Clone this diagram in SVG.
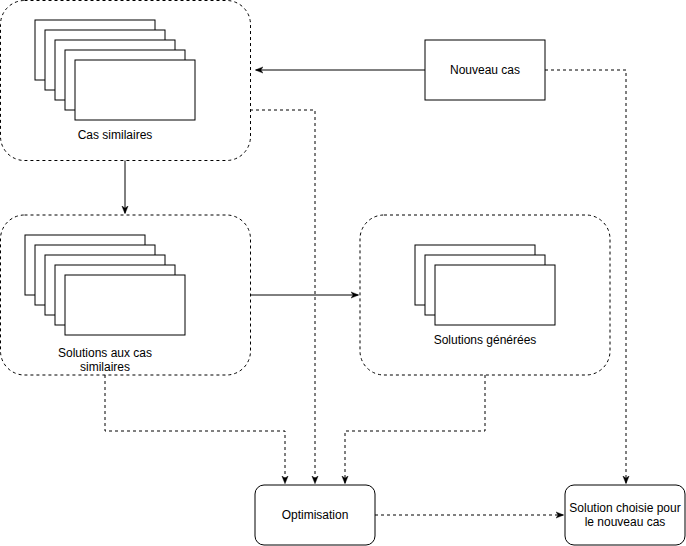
<svg xmlns="http://www.w3.org/2000/svg" width="686" height="546" viewBox="0 0 686 546">
<style>
.container{fill:#fff;stroke:#000;stroke-width:1;stroke-dasharray:3 3}
.card{fill:#fff;stroke:#000;stroke-width:1}
.box{fill:#fff;stroke:#000;stroke-width:1}
.lbl{font-family:"Liberation Sans",Arial,sans-serif;font-size:12px;fill:#000;text-anchor:middle}
.solid{fill:none;stroke:#000;stroke-width:1}
.dash{fill:none;stroke:#000;stroke-width:1;stroke-dasharray:3 3}
</style>
<defs>
<marker id="arr" viewBox="0 0 10 10" refX="9" refY="5" markerWidth="8" markerHeight="8" markerUnits="userSpaceOnUse" orient="auto">
<path d="M0,1 L10,5 L0,9 L3,5 Z" fill="#000" stroke="#000" stroke-width="0.5"/>
</marker>
</defs>
<rect width="686" height="546" fill="#fff"/>
<g id="connectors">
<path class="solid" d="M125,160 L125,213" marker-end="url(#arr)"/>
<path class="solid" d="M250,295 L358,295" marker-end="url(#arr)"/>
<path class="solid" d="M425,70 L256,70" marker-end="url(#arr)"/>
<path class="dash" d="M545,70 L626,70 L626,483" marker-end="url(#arr)"/>
<path class="dash" d="M250,110 L315,110 L315,483" marker-end="url(#arr)"/>
<path class="dash" d="M105,375 L105,431 L285,431 L285,483" marker-end="url(#arr)"/>
<path class="dash" d="M485,375 L485,431 L345,431 L345,483" marker-end="url(#arr)"/>
<path class="dash" d="M375,515 L563,515" marker-end="url(#arr)"/>
</g>
<g id="cas-similaires">
<rect class="container" x="0.5" y="0.5" width="250" height="160" rx="24"/>
<rect class="card" x="35" y="20" width="120" height="60"/>
<rect class="card" x="45" y="30" width="120" height="60"/>
<rect class="card" x="55" y="40" width="120" height="60"/>
<rect class="card" x="65" y="50" width="120" height="60"/>
<rect class="card" x="75" y="60" width="120" height="60"/>
<text class="lbl" x="115" y="139">Cas similaires</text>
</g>
<g id="solutions-cas-similaires">
<rect class="container" x="0.5" y="215" width="250" height="160" rx="24"/>
<rect class="card" x="25" y="235" width="120" height="60"/>
<rect class="card" x="35" y="245" width="120" height="60"/>
<rect class="card" x="45" y="255" width="120" height="60"/>
<rect class="card" x="55" y="265" width="120" height="60"/>
<rect class="card" x="65" y="275" width="120" height="60"/>
<text class="lbl" x="105" y="357">Solutions aux cas</text>
<text class="lbl" x="105" y="371">similaires</text>
</g>
<g id="solutions-generees">
<rect class="container" x="360" y="215" width="250" height="160" rx="24"/>
<rect class="card" x="415" y="245" width="120" height="60"/>
<rect class="card" x="425" y="255" width="120" height="60"/>
<rect class="card" x="435" y="265" width="120" height="60"/>
<text class="lbl" x="485" y="344">Solutions générées</text>
</g>
<g id="nouveau-cas">
<rect class="box" x="425" y="40" width="120" height="60"/>
<text class="lbl" x="485" y="74">Nouveau cas</text>
</g>
<g id="optimisation">
<rect class="box" x="255" y="485" width="120" height="60" rx="9"/>
<text class="lbl" x="315" y="519">Optimisation</text>
</g>
<g id="solution-choisie">
<rect class="box" x="565" y="485" width="120" height="60" rx="9"/>
<text class="lbl" x="625" y="512">Solution choisie pour</text>
<text class="lbl" x="625" y="526">le nouveau cas</text>
</g>
</svg>
